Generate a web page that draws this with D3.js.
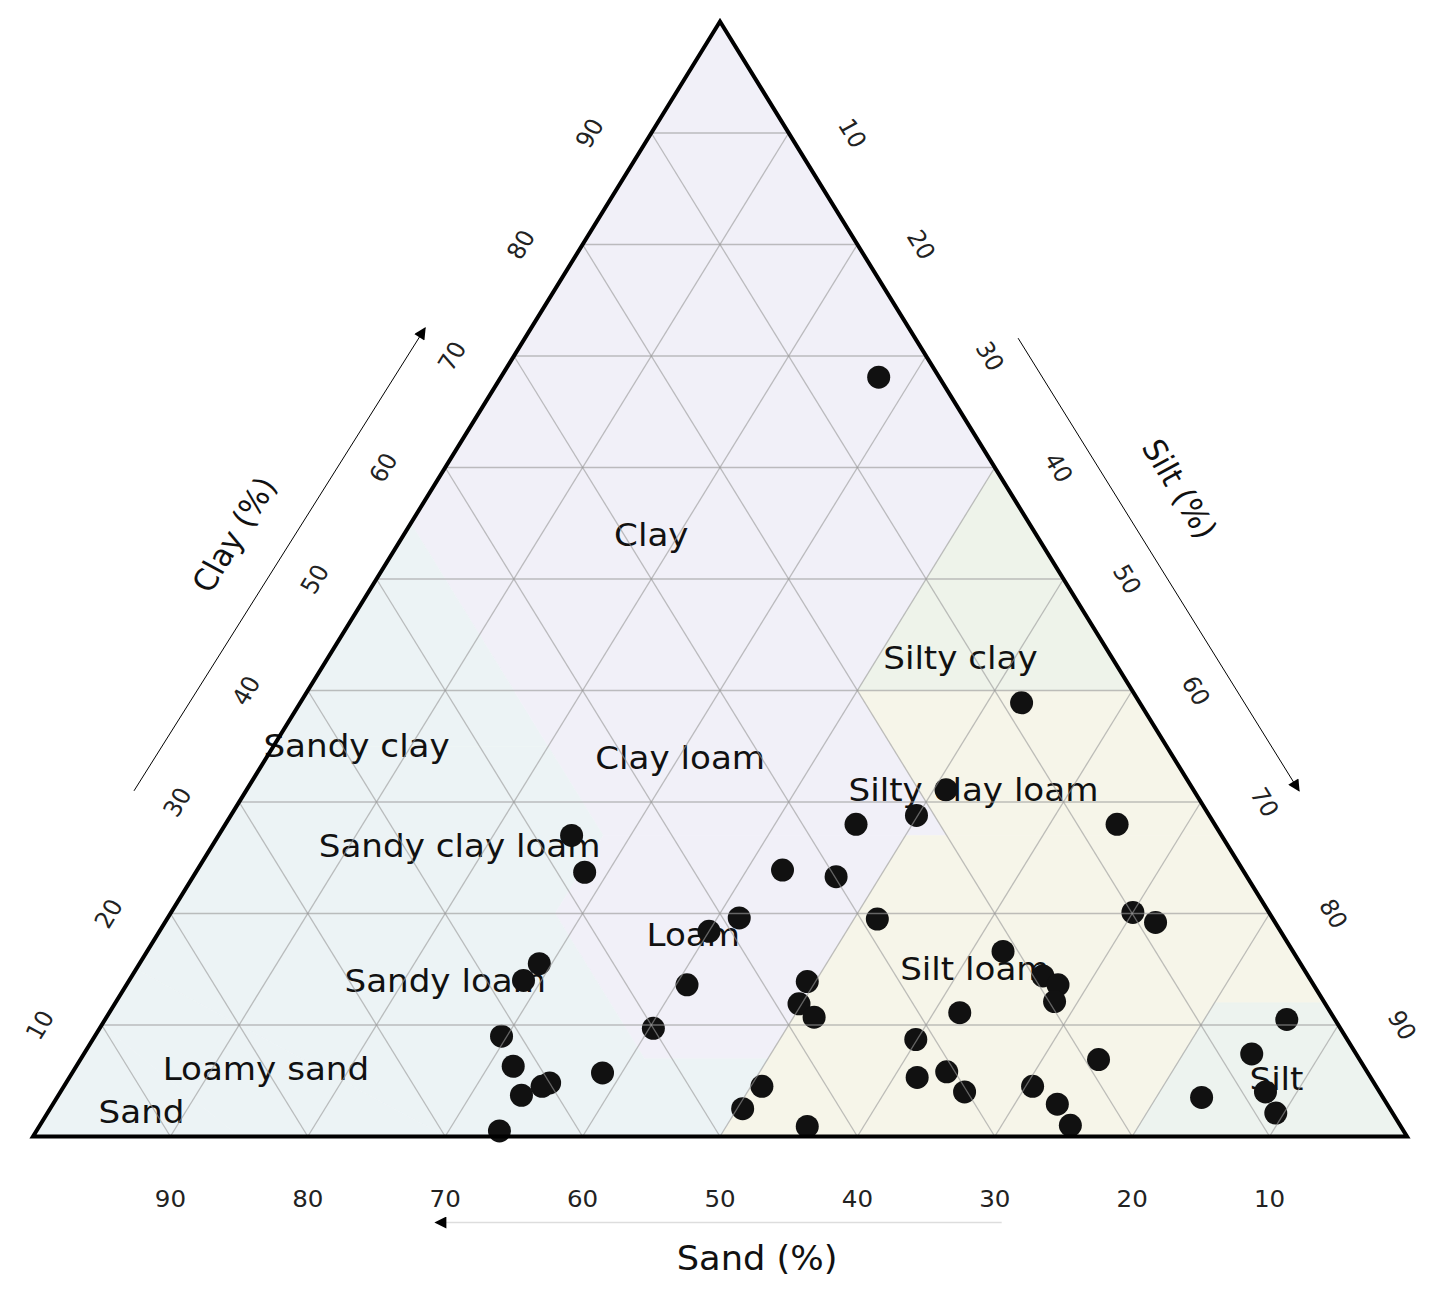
<!DOCTYPE html>
<html><head><meta charset="utf-8">
<script src="https://cdn.jsdelivr.net/npm/d3@7/dist/d3.min.js"></script>
<style>body{margin:0;background:#fff}svg{display:block}text{font-family:"DejaVu Sans",sans-serif}</style>
</head><body>
<svg id="chart" width="1441" height="1298"></svg>
<script>
// ---- data (percent) ----
const clay = [68.1,38.9,31.1,28.8,28.0,28.0,27.0,23.7,23.9,23.3,19.6,18.4,19.5,20.1,19.2,16.6,15.5,14.0,13.6,13.9,14.4,13.6,12.1,11.9,10.7,11.1,10.5,9.7,9.0,8.7,7.4,6.9,6.3,5.7,5.8,5.3,4.8,4.5,4.5,4.5,4.0,4.0,3.7,3.5,2.9,2.5,2.1,1.0,0.9,0.5];
const silt = [27.5,52.5,50.9,49.9,45.9,64.9,25.7,28.3,42.6,46.8,41.6,40.0,51.7,70.0,72.1,62.3,29.1,28.7,40.8,49.4,66.3,67.8,68.3,49.8,51.5,61.9,86.0,40.3,29.6,59.9,85.0,74.1,31.8,38.6,63.6,61.7,35.2,34.8,50.8,70.5,65.8,87.7,33.7,83.3,73.1,50.4,89.4,75.0,55.9,33.7];
const sand = [4.4,8.6,18.0,21.3,26.1,7.1,47.3,48.0,33.5,29.9,38.8,41.6,28.8,9.9,8.7,21.1,55.4,57.3,45.6,36.7,19.3,18.6,19.6,38.3,37.8,27.0,3.5,50.0,61.4,31.4,7.6,19.0,61.9,55.7,30.6,33.0,60.0,60.7,44.7,25.0,30.2,8.3,62.6,13.2,24.0,47.1,8.5,24.0,43.2,65.8];

const tickValues = [10,20,30,40,50,60,70,80,90];

// USDA texture classes: vertices as [sand, silt, clay]
const regionNames = ["Clay","Silty clay","Sandy clay","Clay loam","Silty clay loam","Sandy clay loam","Loam","Silt loam","Sandy loam","Silt","Loamy sand","Sand"];
const regionVertices = [
  [[45,15,40],[20,40,40],[0,40,60],[0,0,100],[45,0,55]],
  [[20,40,40],[0,60,40],[0,40,60]],
  [[65,0,35],[45,20,35],[45,0,55]],
  [[45,28,27],[20,53,27],[20,40,40],[45,15,40]],
  [[20,53,27],[0,73,27],[0,60,40],[20,40,40]],
  [[80,0,20],[52,28,20],[45,28,27],[45,20,35],[65,0,35]],
  [[43,50,7],[52,41,7],[52,28,20],[45,28,27],[23,50,27]],
  [[50,50,0],[20,80,0],[8,80,12],[0,88,12],[0,73,27],[23,50,27],[43,50,7]],
  [[85,0,15],[70,30,0],[50,50,0],[43,50,7],[52,41,7],[52,28,20],[80,0,20]],
  [[20,80,0],[0,100,0],[0,88,12],[8,80,12]],
  [[90,0,10],[85,15,0],[70,30,0],[85,0,15]],
  [[100,0,0],[85,15,0],[90,0,10]]
];
const regionColors = ["#f1f0f8","#eef3ea","#ecf3f5","#f1f0f8","#f6f5e9","#ecf3f5","#f1f0f8","#f6f5e9","#ecf3f5","#edf3ef","#ecf3f5","#ecf3f5"];
// label anchor positions (clay %, silt %)
const labelClay = [54.0,43.0,35.1,34.0,31.1,26.1,18.1,15.1,14.0,5.2,6.1,2.2];
const labelSilt = [18.0,46.0,6.0,30.1,52.9,18.0,39.0,61.0,23.0,87.9,13.9,6.8];

// ---- layout ----
const svg = d3.select("#chart");
const W = 1441, H = 1298;
const SX = 1.067; // horizontal stretch of the figure
const x = d3.scaleLinear().domain([0,100]).range([33,1407]);   // silt + clay/2
const y = d3.scaleLinear().domain([0,100]).range([1136.5,21.5]); // clay
const P = (sd, st, cl) => [x(st + cl/2), y(cl)];

svg.append("rect").attr("width",W).attr("height",H).attr("fill","#fff");

// region fills
svg.append("g").selectAll("path").data(regionVertices).join("path")
  .attr("d", v => d3.line()(v.map(p => P(p[0],p[1],p[2]))) + "Z")
  .attr("fill", (v,i) => regionColors[i])
  .attr("stroke", (v,i) => regionColors[i]).attr("stroke-width",0.5);

// region labels
svg.append("g").selectAll("text").data(regionNames).join("text")
  .attr("transform", (d,i) => { const p = P(100-labelClay[i]-labelSilt[i], labelSilt[i], labelClay[i]); return `translate(${p[0]},${p[1]}) scale(${SX},1)`; })
  .attr("text-anchor","middle").attr("dy","0.36em")
  .attr("font-size",32).attr("fill","#111")
  .text(d => d);

// points
svg.append("g").selectAll("circle").data(clay).join("circle")
  .attr("cx", (d,i) => P(sand[i], silt[i], clay[i])[0])
  .attr("cy", (d,i) => P(sand[i], silt[i], clay[i])[1])
  .attr("r", 11.5).attr("fill","#111");

// grid lines
const grid = svg.append("g").attr("stroke","#999").attr("stroke-opacity",0.62).attr("stroke-width",1.3).attr("fill","none");
tickValues.forEach(v => {
  const segs = [
    [P(100-v,0,v), P(0,100-v,v)],      // clay
    [P(100-v,v,0), P(0,v,100-v)],      // silt
    [P(v,100-v,0), P(v,0,100-v)]       // sand
  ];
  segs.forEach(s => grid.append("line").attr("x1",s[0][0]).attr("y1",s[0][1]).attr("x2",s[1][0]).attr("y2",s[1][1]));
});

// border
svg.append("path")
  .attr("d", d3.line()([P(100,0,0), P(0,100,0), P(0,0,100)]) + "Z")
  .attr("fill","none").attr("stroke","#000").attr("stroke-width",4).attr("stroke-linejoin","miter");

// tick labels
const tk = svg.append("g").attr("font-size",23).attr("fill","#222").attr("text-anchor","middle");
tickValues.forEach(v => {
  const b = P(v,100-v,0);
  tk.append("text").attr("transform",`translate(${b[0]},${b[1]+62}) scale(${SX},1)`).attr("dy","0.36em").text(v);
  const l = P(100-v,0,v);
  tk.append("text").attr("transform",`translate(${l[0]-62},${l[1]}) scale(${SX},1) rotate(-60)`).attr("dy","0.36em").text(v);
  const r = P(0,v,100-v);
  tk.append("text").attr("transform",`translate(${r[0]+64},${r[1]}) scale(${SX},1) rotate(60)`).attr("dy","0.36em").text(v);
});

// arrows
const defs = svg.append("defs");
defs.append("marker").attr("id","ah").attr("viewBox","0 0 10 10").attr("refX",9).attr("refY",5)
  .attr("markerWidth",15).attr("markerHeight",12).attr("markerUnits","userSpaceOnUse").attr("orient","auto")
  .append("path").attr("d","M0,0L10,5L0,10Z").attr("fill","#000");
const clayA = [P(69,0,31), P(27.5,0,72.5)];
svg.append("line").attr("x1",clayA[0][0]-112).attr("y1",clayA[0][1]).attr("x2",clayA[1][0]-106).attr("y2",clayA[1][1])
  .attr("stroke","#000").attr("stroke-width",1).attr("marker-end","url(#ah)");
const siltA = [P(0,28.4,71.6), P(0,69,31)];
svg.append("line").attr("x1",siltA[0][0]+103).attr("y1",siltA[0][1]).attr("x2",siltA[1][0]+105).attr("y2",siltA[1][1])
  .attr("stroke","#000").attr("stroke-width",1).attr("marker-end","url(#ah)");
const sandA = [P(29.5,70.5,0), P(70.7,29.3,0)];
svg.append("line").attr("x1",sandA[0][0]).attr("y1",sandA[0][1]+86).attr("x2",sandA[1][0]).attr("y2",sandA[1][1]+86)
  .attr("stroke","#ddd").attr("stroke-width",1.5).attr("marker-end","url(#ah)");

// axis titles
const ct = P(46,0,54);
svg.append("text").attr("transform",`translate(${ct[0]-170},${ct[1]}) scale(${SX},1) rotate(-60)`)
  .attr("text-anchor","middle").attr("dy","0.36em").attr("font-size",30).attr("fill","#111").text("Clay (%)");
const st = P(0,41.9,58.1);
svg.append("text").attr("transform",`translate(${st[0]+172},${st[1]}) scale(${SX},1) rotate(60)`)
  .attr("text-anchor","middle").attr("dy","0.36em").attr("font-size",30).attr("fill","#111").text("Silt (%)");
const sd = P(47.3,52.7,0);
svg.append("text").attr("transform",`translate(${sd[0]},${sd[1]+122}) scale(${SX},1)`)
  .attr("text-anchor","middle").attr("dy","0.36em").attr("font-size",33).attr("fill","#111").text("Sand (%)");
</script>
</body></html>
